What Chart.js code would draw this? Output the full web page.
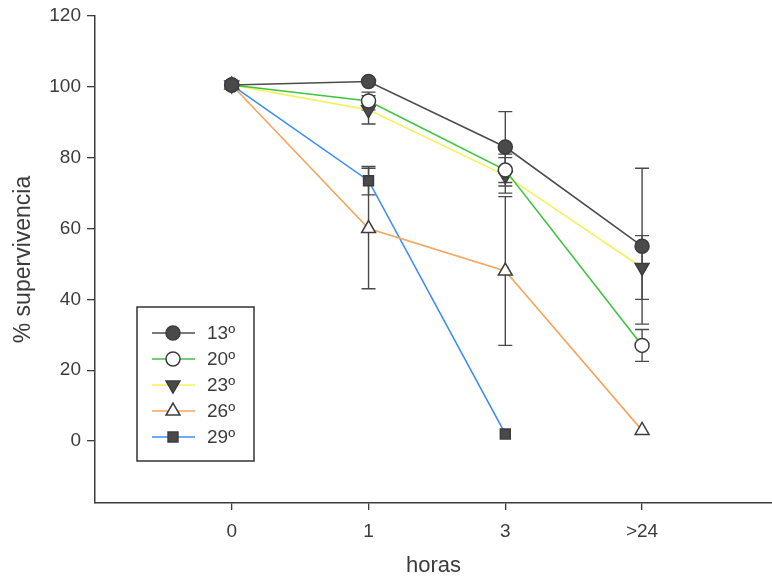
<!DOCTYPE html>
<html>
<head>
<meta charset="utf-8">
<script src="https://cdn.jsdelivr.net/npm/chart.js@4/dist/chart.umd.min.js"></script>
<style>
    html, body { margin: 0; padding: 0; background: #fff; }
    #wrap { position: relative; width: 772px; height: 583px; }
</style>
</head>
<body>
<div id="wrap"><canvas id="survChart" width="772" height="583"></canvas></div>
<script>
    // ============================================
    // Data
    // ============================================

    const xLabels = ['0', '1', '3', '>24'];
    const seriesNames = ['13º', '20º', '23º', '26º', '29º'];

    const t13 = [100.5, 101.5, 83, 55];
    const t20 = [100.5, 96, 76.5, 27];
    const t23 = [100.5, 93.5, 75, 49];
    const t26 = [100.5, 60, 48, 3];
    const t29 = [100.5, 73.5, 2, null];

    const e13 = [0, 0, 10, 22];
    const e20 = [0, 2.5, 4.5, 4.5];
    const e23 = [0, 4, 5, 9];
    const e26 = [0, 17, 21, 0];
    const e29 = [0, 4, 0, 0];

    const yTicks = [0, 20, 40, 60, 80, 100, 120];

    // ============================================
    // Styles
    // ============================================

    const FONT = "'Liberation Sans', Arial, sans-serif";
    const INK = '#3c3c3c';

    const styles = [
        { line: '#4d4d4d', fill: '#4a4a4a', shape: 'circle', r: 7 },
        { line: '#3ec43e', fill: '#ffffff', shape: 'circle', r: 7 },
        { line: '#f4f25a', fill: '#4a4a4a', shape: 'triangle', r: 8, rot: 180 },
        { line: '#f6a55c', fill: '#ffffff', shape: 'triangle', r: 8, rot: 0 },
        { line: '#3b8ef0', fill: '#4a4a4a', shape: 'rect', r: 7 }
    ];

    const values = [t13, t20, t23, t26, t29];
    const errors = [e13, e20, e23, e26, e29];

    function toPoints(arr) {
        return arr.map((v, i) => ({ x: i, y: v })).filter(p => p.y !== null);
    }

    const datasets = values.map((arr, k) => ({
        label: seriesNames[k],
        data: toPoints(arr),
        borderColor: styles[k].line,
        borderWidth: 1.6,
        pointStyle: styles[k].shape,
        pointRotation: styles[k].rot || 0,
        pointRadius: styles[k].r,
        pointBackgroundColor: styles[k].fill,
        pointBorderColor: INK,
        pointBorderWidth: 1.5,
        tension: 0,
        errors: errors[k]
    }));

    // ============================================
    // Plugins
    // ============================================

    // error bars, drawn under the markers
    const errorBars = {
        id: 'errorBars',
        beforeDatasetsDraw(chart) {
            const { ctx, scales: { x, y } } = chart;
            ctx.save();
            ctx.strokeStyle = '#4a4a4a';
            ctx.lineWidth = 1.4;
            chart.data.datasets.forEach(ds => {
                ds.data.forEach((p, i) => {
                    const e = ds.errors[i];
                    if (!e) return;
                    const px = x.getPixelForValue(p.x);
                    const top = y.getPixelForValue(p.y + e);
                    const bot = y.getPixelForValue(p.y - e);
                    ctx.beginPath();
                    ctx.moveTo(px, top); ctx.lineTo(px, bot);
                    ctx.moveTo(px - 7, top); ctx.lineTo(px + 7, top);
                    ctx.moveTo(px - 7, bot); ctx.lineTo(px + 7, bot);
                    ctx.stroke();
                });
            });
            ctx.restore();
        }
    };

    // boxed legend with line + marker samples
    const boxLegend = {
        id: 'boxLegend',
        afterDraw(chart) {
            const { ctx } = chart;
            const bx = 137, by = 307, bw = 117, bh = 154;
            ctx.save();
            ctx.strokeStyle = '#333';
            ctx.lineWidth = 1.5;
            ctx.strokeRect(bx, by, bw, bh);
            ctx.font = '19px ' + FONT;
            ctx.textBaseline = 'middle';
            ctx.textAlign = 'left';
            chart.data.datasets.forEach((ds, k) => {
                const ly = 333 + k * 26;
                ctx.strokeStyle = ds.borderColor;
                ctx.lineWidth = 1.6;
                ctx.beginPath();
                ctx.moveTo(152, ly); ctx.lineTo(195, ly);
                ctx.stroke();
                ctx.fillStyle = ds.pointBackgroundColor;
                ctx.strokeStyle = INK;
                ctx.lineWidth = 1.5;
                Chart.helpers.drawPoint(ctx, {
                    pointStyle: ds.pointStyle,
                    rotation: ds.pointRotation,
                    radius: ds.pointRadius,
                    borderWidth: 1.5
                }, 173, ly);
                ctx.fillStyle = INK;
                ctx.fillText(ds.label, 207, ly + 1);
            });
            ctx.restore();
        }
    };

    // ============================================
    // Chart
    // ============================================

    new Chart(document.getElementById('survChart'), {
        type: 'line',
        data: { datasets },
        plugins: [errorBars, boxLegend],
        options: {
            responsive: false,
            animation: false,
            layout: { autoPadding: false, padding: { top: 16, right: 0, bottom: 0, left: 0 } },
            plugins: { legend: { display: false }, tooltip: { enabled: false } },
            scales: {
                x: {
                    type: 'linear',
                    min: -1,
                    max: 3.95,
                    afterBuildTicks: s => { s.ticks = xLabels.map((_, i) => ({ value: i })); },
                    afterFit: s => {
                        s.height = 80;
                        s.paddingLeft = 0;
                        s.paddingRight = 0;
                    },
                    ticks: {
                        callback: v => xLabels[v],
                        color: INK,
                        padding: 10,
                        maxRotation: 0,
                        font: { family: FONT, size: 19 }
                    },
                    grid: { drawOnChartArea: false, tickLength: 7, color: INK, lineWidth: 1.3 },
                    border: { display: true, color: INK, width: 1.5 },
                    title: {
                        display: true,
                        text: 'horas',
                        color: INK,
                        padding: { bottom: 4 },
                        font: { family: FONT, size: 22 }
                    }
                },
                y: {
                    min: -17.5,
                    max: 120,
                    afterBuildTicks: s => { s.ticks = yTicks.map(v => ({ value: v })); },
                    afterFit: s => {
                        s.width = 95;
                        s.paddingTop = 0;
                        s.paddingBottom = 0;
                    },
                    ticks: {
                        color: INK,
                        padding: 6,
                        font: { family: FONT, size: 19 }
                    },
                    grid: { drawOnChartArea: false, tickLength: 8, color: INK, lineWidth: 1.3 },
                    border: { display: true, color: INK, width: 1.5 },
                    title: {
                        display: true,
                        text: '% supervivencia',
                        color: INK,
                        padding: { top: 10 },
                        font: { family: FONT, size: 23 }
                    }
                }
            }
        }
    });
</script>
</body>
</html>
